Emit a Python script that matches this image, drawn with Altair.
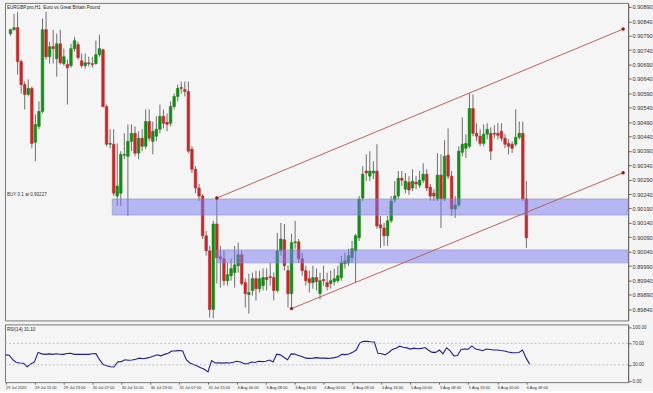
import altair as alt
import pandas as pd

# ---------------- data ----------------
opens = [0.90797, 0.90811, 0.90818, 0.90700, 0.90620, 0.90586, 0.90607, 0.90420, 0.90475, 0.90527,
         0.90811, 0.90717, 0.90752, 0.90710, 0.90762, 0.90693, 0.90690, 0.90686, 0.90745, 0.90759,
         0.90703, 0.90686, 0.90696, 0.90693, 0.90693, 0.90724, 0.90741, 0.90544, 0.90413, 0.90413,
         0.90233, 0.90243, 0.90375, 0.90371, 0.90423, 0.90451, 0.90382, 0.90434, 0.90406, 0.90492,
         0.90423, 0.90441, 0.90465, 0.90510, 0.90489, 0.90486, 0.90544, 0.90579, 0.90610, 0.90603,
         0.90596, 0.90396, 0.90326, 0.90261, 0.90233, 0.90095, 0.90043, 0.89839, 0.90136, 0.90022,
         0.90015, 0.89939, 0.89956, 0.89967, 0.89991, 0.90029, 0.89932, 0.89891, 0.89905, 0.89946,
         0.89911, 0.89922, 0.89950, 0.89953, 0.89950, 0.89905, 0.90043, 0.90081, 0.89974, 0.89894,
         0.90071, 0.90074, 0.90015, 0.89974, 0.89946, 0.89932, 0.89950, 0.89894, 0.89943, 0.89932,
         0.89929, 0.89936, 0.89939, 0.89950, 0.89998, 0.90001, 0.90019, 0.90043, 0.90088, 0.90226,
         0.90320, 0.90302, 0.90313, 0.90320, 0.90133, 0.90122, 0.90095, 0.90147, 0.90219, 0.90233,
         0.90295, 0.90257, 0.90281, 0.90261, 0.90281, 0.90271, 0.90288, 0.90309, 0.90264, 0.90243,
         0.90223, 0.90306, 0.90223, 0.90375, 0.90302, 0.90188, 0.90202, 0.90385, 0.90399, 0.90406,
         0.90537, 0.90451, 0.90441, 0.90416, 0.90448, 0.90451, 0.90451, 0.90451, 0.90458, 0.90434,
         0.90416, 0.90413, 0.90413, 0.90437, 0.90451, 0.90223]
highs = [0.90814, 0.90866, 0.90873, 0.90707, 0.90631, 0.90638, 0.90613, 0.90517, 0.90562, 0.90849,
         0.90873, 0.90769, 0.90811, 0.90797, 0.90811, 0.90745, 0.90707, 0.90762, 0.90786, 0.90769,
         0.90728, 0.90728, 0.90717, 0.90717, 0.90773, 0.90793, 0.90745, 0.90551, 0.90465, 0.90465,
         0.90416, 0.90389, 0.90451, 0.90482, 0.90482, 0.90475, 0.90458, 0.90465, 0.90534, 0.90534,
         0.90492, 0.90510, 0.90551, 0.90534, 0.90520, 0.90562, 0.90589, 0.90620, 0.90631, 0.90631,
         0.90631, 0.90406, 0.90337, 0.90275, 0.90240, 0.90112, 0.90060, 0.90147, 0.90226, 0.90060,
         0.90043, 0.90001, 0.90015, 0.90060, 0.90071, 0.90043, 0.89946, 0.89963, 0.89967, 0.89974,
         0.89974, 0.89981, 0.89981, 0.90001, 0.89967, 0.90105, 0.90140, 0.90136, 0.89991, 0.90102,
         0.90147, 0.90084, 0.90036, 0.89991, 0.89974, 0.89991, 0.89981, 0.89967, 0.89991, 0.89967,
         0.89974, 0.89981, 0.89991, 0.90026, 0.90036, 0.90050, 0.90077, 0.90102, 0.90233, 0.90337,
         0.90378, 0.90389, 0.90354, 0.90413, 0.90164, 0.90140, 0.90164, 0.90233, 0.90285, 0.90320,
         0.90320, 0.90313, 0.90302, 0.90326, 0.90302, 0.90320, 0.90347, 0.90326, 0.90275, 0.90257,
         0.90382, 0.90378, 0.90427, 0.90468, 0.90320, 0.90233, 0.90406, 0.90506, 0.90448, 0.90589,
         0.90586, 0.90486, 0.90465, 0.90482, 0.90486, 0.90472, 0.90479, 0.90486, 0.90486, 0.90448,
         0.90430, 0.90423, 0.90534, 0.90492, 0.90492, 0.90285]
lows = [0.90790, 0.90807, 0.90655, 0.90589, 0.90534, 0.90579, 0.90399, 0.90354, 0.90465, 0.90520,
        0.90707, 0.90693, 0.90693, 0.90648, 0.90690, 0.90686, 0.90551, 0.90679, 0.90735, 0.90707,
        0.90679, 0.90676, 0.90683, 0.90679, 0.90690, 0.90717, 0.90541, 0.90406, 0.90399, 0.90233,
        0.90199, 0.90199, 0.90361, 0.90164, 0.90389, 0.90371, 0.90361, 0.90389, 0.90396, 0.90423,
        0.90378, 0.90423, 0.90451, 0.90468, 0.90458, 0.90475, 0.90534, 0.90562, 0.90589, 0.90579,
        0.90382, 0.90313, 0.90243, 0.90216, 0.90084, 0.90026, 0.89811, 0.89808, 0.89929, 0.89915,
        0.89922, 0.89922, 0.89939, 0.89915, 0.89967, 0.89922, 0.89846, 0.89825, 0.89887, 0.89870,
        0.89898, 0.89905, 0.89905, 0.89922, 0.89870, 0.89898, 0.90026, 0.89974, 0.89846, 0.89842,
        0.90050, 0.90001, 0.89956, 0.89922, 0.89898, 0.89911, 0.89905, 0.89874, 0.89922, 0.89905,
        0.89911, 0.89922, 0.89932, 0.89939, 0.89981, 0.89991, 0.90001, 0.89932, 0.90077, 0.90216,
        0.90285, 0.90285, 0.90292, 0.90119, 0.90053, 0.90060, 0.90060, 0.90140, 0.90209, 0.90223,
        0.90268, 0.90243, 0.90237, 0.90250, 0.90257, 0.90261, 0.90278, 0.90250, 0.90216, 0.90216,
        0.90216, 0.90122, 0.90216, 0.90292, 0.90164, 0.90157, 0.90195, 0.90371, 0.90365, 0.90399,
        0.90441, 0.90423, 0.90406, 0.90406, 0.90430, 0.90358, 0.90434, 0.90430, 0.90423, 0.90399,
        0.90378, 0.90382, 0.90406, 0.90430, 0.90216, 0.90053]
closes = [0.90811, 0.90818, 0.90700, 0.90620, 0.90586, 0.90607, 0.90416, 0.90482, 0.90527, 0.90811,
          0.90717, 0.90752, 0.90745, 0.90762, 0.90696, 0.90717, 0.90679, 0.90745, 0.90773, 0.90714,
          0.90686, 0.90696, 0.90693, 0.90690, 0.90724, 0.90745, 0.90544, 0.90413, 0.90416, 0.90243,
          0.90268, 0.90378, 0.90378, 0.90423, 0.90451, 0.90382, 0.90434, 0.90406, 0.90492, 0.90434,
          0.90458, 0.90465, 0.90510, 0.90486, 0.90482, 0.90544, 0.90579, 0.90607, 0.90607, 0.90596,
          0.90389, 0.90326, 0.90261, 0.90233, 0.90095, 0.90043, 0.89839, 0.90136, 0.90019, 0.90015,
          0.89939, 0.89960, 0.89981, 0.89994, 0.90029, 0.89929, 0.89894, 0.89898, 0.89946, 0.89911,
          0.89946, 0.89950, 0.89943, 0.89950, 0.89905, 0.90043, 0.90084, 0.89991, 0.89894, 0.90071,
          0.90074, 0.90015, 0.89974, 0.89939, 0.89932, 0.89950, 0.89936, 0.89939, 0.89939, 0.89918,
          0.89939, 0.89946, 0.89956, 0.90001, 0.90008, 0.90026, 0.90050, 0.90095, 0.90223, 0.90309,
          0.90313, 0.90320, 0.90320, 0.90129, 0.90122, 0.90095, 0.90147, 0.90216, 0.90233, 0.90295,
          0.90288, 0.90285, 0.90254, 0.90285, 0.90275, 0.90288, 0.90309, 0.90261, 0.90233, 0.90233,
          0.90306, 0.90223, 0.90371, 0.90302, 0.90188, 0.90202, 0.90389, 0.90413, 0.90416, 0.90537,
          0.90451, 0.90441, 0.90416, 0.90448, 0.90465, 0.90389, 0.90448, 0.90444, 0.90434, 0.90413,
          0.90406, 0.90399, 0.90437, 0.90451, 0.90223, 0.90088]
rsi_values = [48.6, 48.0, 39.6, 34.5, 33.6, 33.0, 26.5, 31.8, 35.4, 53.2,
              50.4, 49.5, 50.4, 49.5, 50.5, 49.8, 49.5, 51.0, 51.4, 49.5,
              49.8, 49.5, 49.5, 49.5, 50.5, 50.9, 39.6, 30.7, 28.5, 26.4,
              26.0, 35.4, 36.0, 39.6, 38.5, 39.0, 40.5, 42.5, 41.5, 42.5,
              44.0, 46.5, 48.6, 46.8, 49.5, 51.4, 55.7, 56.0, 56.5, 55.7,
              39.6, 33.6, 30.5, 27.7, 24.5, 21.8, 17.0, 37.9, 33.6, 34.0,
              33.3, 34.0, 33.6, 35.0, 36.6, 35.4, 32.0, 32.0, 35.4, 34.5,
              36.6, 36.0, 36.6, 39.0, 35.4, 49.8, 48.6, 44.0, 39.6, 50.4,
              50.0, 47.5, 45.5, 42.5, 42.0, 42.5, 43.5, 42.5, 42.5, 42.0,
              42.5, 43.5, 45.0, 49.5, 49.0, 50.0, 53.2, 57.5, 70.5, 73.6,
              73.6, 72.8, 72.3, 51.4, 50.5, 48.6, 53.0, 58.6, 61.0, 64.6,
              62.5, 61.5, 59.3, 61.0, 60.0, 60.5, 62.1, 57.0, 53.2, 53.2,
              57.5, 50.4, 61.6, 56.0, 46.8, 47.5, 58.6, 59.5, 59.0, 65.2,
              59.3, 58.0, 56.3, 59.3, 58.5, 57.5, 57.5, 56.5, 55.7, 54.0,
              52.7, 52.5, 53.0, 57.5, 42.5, 31.1]

time_labels = ["29 Jul 2020", "29 Jul 15:00", "29 Jul 23:00", "30 Jul 07:00", "30 Jul 15:00",
               "30 Jul 23:00", "31 Jul 07:00", "31 Jul 15:00", "3 Aug 00:00", "3 Aug 08:00",
               "3 Aug 16:00", "4 Aug 00:00", "4 Aug 08:00", "4 Aug 16:00", "5 Aug 00:00",
               "5 Aug 08:00", "5 Aug 16:00", "6 Aug 00:00", "6 Aug 08:00"]
price_ticks = [0.89840, 0.89890, 0.89940, 0.89990, 0.90040, 0.90090, 0.90140, 0.90190,
               0.90240, 0.90290, 0.90340, 0.90390, 0.90440, 0.90490, 0.90540, 0.90590,
               0.90640, 0.90690, 0.90740, 0.90790, 0.90840, 0.90890]
rsi_ticks = [0.0, 30.0, 70.0, 100.0]
rsi_levels = [30, 70]

zone_start = [28.6, 58.0]
zone_low = [0.90167, 0.90001]
zone_high = [0.90223, 0.90046]

chan_x1 = [58.0, 79.0]
chan_y1 = [0.90226, 0.89842]
chan_x2 = [172.2, 172.2]
chan_y2 = [0.90813, 0.90314]

chart_title = "EURGBP.pro,H1:  Euro vs Great Britain Pound"
order_text = "BUY 0.1 at 0.90227"
order_price = 0.90227
rsi_title = "RSI(14) 31.10"

# ---------------- tables ----------------
n = len(opens)
bars = pd.DataFrame({"idx": list(range(n)), "open": opens, "high": highs,
                     "low": lows, "close": closes, "rsi": rsi_values})
zones = pd.DataFrame({"start": zone_start, "low": zone_low, "high": zone_high})
chan = pd.DataFrame({"x1": chan_x1, "y1": chan_y1, "x2": chan_x2, "y2": chan_y2})
chan_pts = pd.DataFrame({"x": chan_x1 + chan_x2, "y": chan_y1 + chan_y2})

W = 626
H_MAIN = 319
H_RSI = 58
FONT = "Liberation Sans"

xscale = alt.Scale(domain=[-0.15, 172.2], nice=False, zero=False)
yscale = alt.Scale(domain=[0.89801, 0.90904], nice=False, zero=False)
rscale = alt.Scale(domain=[-2.0, 105.0], nice=False, zero=False)

price_axis = alt.Axis(orient="right", values=price_ticks, tickCount=40, format=".5f", title=None,
                      labelFontSize=5.6, labelFont=FONT, labelColor="#333333",
                      tickSize=3, tickColor="#666666", domainColor="#666666",
                      labelPadding=1, grid=False, labelOverlap=False, labelFlush=False)
rsi_axis = alt.Axis(orient="right", values=rsi_ticks, tickCount=10, format=".2f", title=None,
                    labelFontSize=4.6, labelFont=FONT, labelColor="#333333",
                    tickSize=3, tickColor="#666666", domainColor="#666666",
                    labelPadding=1, grid=False, labelOverlap=False, labelFlush=False)
label_array = "[" + ",".join("'" + s + "'" for s in time_labels) + "]"
time_axis = alt.Axis(values=list(range(0, 145, 8)), tickCount=40,
                     labelExpr=label_array + "[round(datum.value / 8)]",
                     labelAlign="left", labelFontSize=4, labelFont=FONT,
                     labelColor="#333333", tickSize=2, tickColor="#666666",
                     domain=False, labelPadding=1, title=None, grid=False,
                     labelOverlap=False)


def py(field):
    return alt.Y(field, scale=yscale, axis=price_axis)


def px(field):
    return alt.X(field, scale=xscale, axis=None)


def ry(field):
    return alt.Y(field, scale=rscale, axis=rsi_axis)


GREEN = "#168a16"
RED = "#c22a2a"
is_up = "datum.close >= datum.open"

base = alt.Chart(bars)

wicks = base.mark_rule(color="#6e6e6e", strokeWidth=1).encode(
    x=px("idx:Q"), y=py("low:Q"), y2="high:Q")

bodies = base.mark_bar(size=2.6, strokeWidth=0.6).encode(
    x=px("idx:Q"), y=py("open:Q"), y2="close:Q",
    fill=alt.condition(is_up, alt.value(GREEN), alt.value(RED)),
    stroke=alt.condition(is_up, alt.value(GREEN), alt.value(RED)),
)

zone_rects = alt.Chart(zones).mark_rect(
    fill="#7878f6", fillOpacity=0.5, stroke="#8c8cb0", strokeOpacity=0.7, strokeWidth=0.8
).encode(x=px("start:Q"), x2=alt.value(W), y=py("low:Q"), y2="high:Q")

chan_lines = alt.Chart(chan).mark_rule(color="#c0605a", strokeWidth=1).encode(
    x=px("x1:Q"), x2="x2:Q", y=py("y1:Q"), y2="y2:Q")

chan_dots = alt.Chart(chan_pts).mark_circle(size=12, color="#a01212", opacity=1).encode(
    x=px("x:Q"), y=py("y:Q"))

title_text = alt.Chart(pd.DataFrame({"t": [chart_title]})).mark_text(
    align="left", baseline="top", fontSize=4.6, font=FONT, color="#222222"
).encode(x=alt.value(2), y=alt.value(2), text="t:N")

order_label = alt.Chart(pd.DataFrame({"t": [order_text], "p": [order_price]})).mark_text(
    align="left", baseline="bottom", fontSize=4.6, font=FONT, color="#333333", dy=-1
).encode(x=alt.value(2), y=py("p:Q"), text="t:N")

main = alt.layer(wicks, bodies, zone_rects, chan_lines, chan_dots, title_text, order_label).properties(
    width=W, height=H_MAIN
)

rsi_line = base.mark_line(color="#1e1e8e", strokeWidth=1.1).encode(
    x=alt.X("idx:Q", scale=xscale, axis=time_axis),
    y=ry("rsi:Q"),
)

rsi_rules = alt.Chart(pd.DataFrame({"lvl": rsi_levels})).mark_rule(
    color="#b0b0b0", strokeWidth=0.8, strokeDash=[2, 2]
).encode(y=ry("lvl:Q"))

rsi_label = alt.Chart(pd.DataFrame({"t": [rsi_title]})).mark_text(
    align="left", baseline="top", fontSize=4.6, font=FONT, color="#222222"
).encode(x=alt.value(2), y=alt.value(3), text="t:N")

rsi = alt.layer(rsi_line, rsi_rules, rsi_label).properties(width=W, height=H_RSI)

chart = alt.vconcat(main, rsi, spacing=2).properties(
    padding={"left": 2, "top": 1, "right": 0, "bottom": 0},
    background="#f4f4f4",
).configure_view(
    stroke="#777777", strokeWidth=1, fill="#f5f5f5"
).configure_axis(labelOverlap=False)

chart.save("out.html", embed_options={"renderer": "svg", "actions": False})
